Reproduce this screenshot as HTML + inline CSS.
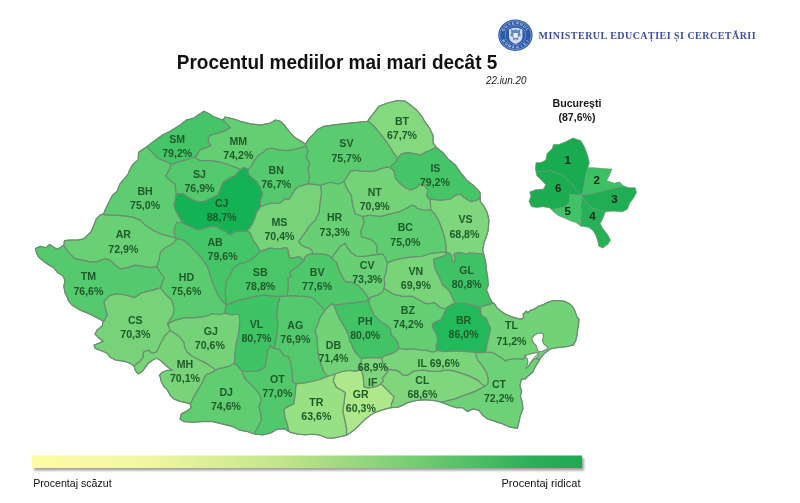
<!DOCTYPE html>
<html lang="ro"><head><meta charset="utf-8"><title>Procentul mediilor mai mari decât 5</title>
<style>
html,body{margin:0;padding:0;background:#fff;}
body{width:800px;height:503px;overflow:hidden;position:relative;font-family:"Liberation Sans",sans-serif;}
svg{position:absolute;left:0;top:0;}
.c{stroke:#6a8f70;stroke-width:1.2;stroke-linejoin:round;}
.l{font:bold 10.6px "Liberation Sans",sans-serif;fill:#1e5a2a;text-anchor:middle;}
.n{font:bold 11.5px "Liberation Sans",sans-serif;fill:#0c2b16;text-anchor:middle;}
.bl{font:bold 10.6px "Liberation Sans",sans-serif;fill:#1a1a1a;text-anchor:middle;}
.title{font:bold 19.6px "Liberation Sans",sans-serif;fill:#111;}
.date{font:italic 10.4px "Liberation Sans",sans-serif;fill:#222;}
.leg{font:10.6px "Liberation Sans",sans-serif;fill:#111;}
.min{font:bold 10px "Liberation Serif",serif;fill:#3d4fa3;letter-spacing:0.9px;}
</style></head><body>
<svg width="800" height="503" viewBox="0 0 800 503">
<defs>
<linearGradient id="lg" x1="0" x2="1" y1="0" y2="0">
<stop offset="0" stop-color="#fdfba6"/><stop offset="0.2" stop-color="#f3f7a2"/><stop offset="0.45" stop-color="#c3e58c"/><stop offset="0.7" stop-color="#74cc72"/><stop offset="0.9" stop-color="#2fb05a"/><stop offset="1" stop-color="#1fa852"/>
</linearGradient>
<filter id="sh" x="-5%" y="-50%" width="110%" height="250%"><feGaussianBlur stdDeviation="1.2"/></filter>
</defs>

<path d="M67.6,297.7 65.1,292.7 63.9,286.5 65.1,280.2 62.6,275.2 57.6,272.7 53.8,267.7 48.1,264.4 44.3,261.7 40.3,258.6 37.8,255.6 36.3,251.9 35.5,248.6 40.3,246.4 45.8,247.9 49.6,244.6 53.3,247.1 57.1,249.4 60.9,247.4 63.9,245.1 64.6,240.6 70.1,240.1 77.6,240.1 83.9,238.8 87.7,235.1 91.4,231.3 93.9,225.1 96.4,218.8 100.2,215.0 104.0,213.8 104.5,211.5 107.5,205.3 112.5,195.3 117.0,191.5 120.1,184.0 125.6,177.5 127.8,174.9 129.3,170.9 131.8,166.2 135.1,162.4 138.3,159.9 138.6,152.4 141.4,150.4 146.4,147.1 153.9,141.4 162.7,135.1 170.2,131.3 180.2,125.1 186.5,120.1 194.0,118.1 200.3,113.8 204.0,111.3 209.0,113.8 212.8,116.3 219.0,118.8 222.8,120.1 225.3,117.1 232.8,118.8 240.4,121.3 250.4,123.8 260.4,125.1 270.4,123.1 275.4,120.1 280.5,121.3 285.5,126.3 285.0,126.4 290.0,132.6 295.0,137.6 301.3,141.4 305.6,144.4 308.8,138.9 313.8,133.9 317.6,129.6 323.9,126.4 332.6,125.1 342.7,123.8 355.2,122.6 367.7,121.3 370.2,117.6 375.2,111.3 379.0,106.3 387.8,103.0 397.8,100.5 405.3,101.3 410.3,105.1 416.6,110.1 421.6,116.3 425.4,122.6 429.1,127.6 432.9,135.1 432.9,142.6 436.6,147.7 442.9,152.7 447.9,158.9 455.4,165.2 460.5,172.7 466.7,180.2 473.0,185.3 478.0,190.3 480.0,192.8 480.2,201.3 483.9,206.3 487.2,212.6 488.9,220.1 488.2,230.2 486.4,236.4 483.9,242.7 482.7,250.2 483.9,255.2 485.7,262.7 486.4,270.3 487.7,277.8 488.2,285.3 486.3,290.0 487.9,293.3 489.6,298.2 492.0,302.2 494.5,303.9 496.9,307.9 501.0,311.2 505.9,314.5 511.6,316.9 517.3,318.5 522.2,319.0 523.8,316.9 523.0,314.5 526.3,311.2 527.9,312.8 530.4,310.4 534.4,309.2 538.5,306.3 543.4,304.7 548.3,302.2 553.2,300.6 558.9,300.6 564.6,301.4 569.5,303.9 572.8,307.1 575.2,312.0 576.9,316.9 579.0,319.4 578.5,324.3 577.7,329.2 576.9,335.7 575.7,340.6 573.6,344.6 567.9,346.3 561.4,347.1 554.8,347.9 550.8,348.7 548.3,350.4 545.0,352.8 542.6,355.3 540.1,358.5 538.5,361.8 536.1,365.0 534.4,368.3 532.8,372.1 528.0,376.0 525.0,379.0 521.6,378.9 519.8,385.1 521.6,391.4 520.3,396.4 522.3,402.7 522.8,408.9 520.3,415.2 519.0,421.5 517.3,428.2 510.3,427.2 502.8,424.0 495.2,421.5 487.7,419.0 482.7,415.2 478.9,410.2 472.7,408.9 467.7,411.4 462.7,407.7 456.4,407.7 448.9,405.2 441.4,402.2 435.1,400.7 425.1,399.7 415.0,400.7 407.5,402.7 400.0,406.4 397.9,407.2 390.4,407.7 382.9,409.7 375.3,412.2 370.3,415.2 365.3,418.9 360.3,424.0 355.3,429.0 350.3,432.7 346.5,435.2 340.3,436.5 332.7,438.2 326.5,437.7 320.2,435.2 312.7,434.0 305.2,434.7 297.6,434.0 290.1,432.2 285.1,429.0 277.6,429.0 270.1,433.2 262.6,434.7 255.0,434.0 247.5,431.5 240.0,430.2 232.8,426.5 222.7,424.0 212.7,421.5 202.7,421.5 192.7,422.2 183.9,421.5 180.1,418.9 181.4,413.9 186.4,411.4 191.4,407.7 190.2,403.9 186.4,402.7 180.1,401.4 173.9,398.9 170.1,395.1 167.6,390.1 163.8,386.4 161.3,381.4 160.1,376.3 159.4,375.3 162.4,372.3 167.4,370.3 172.4,370.3 169.4,368.3 164.4,364.3 160.4,360.2 156.4,358.2 152.4,360.2 148.4,363.3 145.3,367.3 142.3,371.3 138.3,373.9 135.3,370.3 134.3,366.3 130.3,363.3 124.3,361.2 116.2,360.2 110.2,357.2 107.2,353.2 100.2,350.2 95.1,348.2 94.1,345.2 99.2,343.2 103.2,341.2 99.2,338.2 95.1,334.1 97.1,330.1 102.2,326.1 103.2,321.1 96.1,317.1 88.1,313.1 80.1,310.0 72.0,305.0 68.0,300.0 67.6,297.7Z" fill="#6fcc78" stroke="#6a8f70" stroke-width="1.3"/>
<path class="c" d="M226.4,305.1 225.2,292.6 226.4,281.3 230.2,275.0 232.7,270.0 233.9,267.7 238.9,263.9 245.2,262.7 250.2,260.2 255.2,256.4 260.2,251.4 257.7,246.4 254.0,241.4 251.5,236.4 250.3,233.0 247.5,230.6 244.1,231.2 239.3,231.2 233.8,231.9 231.0,234.7 228.2,234.0 225.5,231.2 221.4,229.9 217.9,227.8 213.8,225.8 210.4,226.4 206.2,227.8 202.2,229.2 198.0,229.9 194.6,228.5 189.8,226.4 184.3,223.7 180.1,222.3 176.7,222.7 174.9,226.5 174.1,231.3 174.6,235.4 176.7,238.8 182.9,240.1 187.9,243.8 192.9,248.8 197.9,253.9 202.9,260.1 207.9,267.6 209.8,274.2 212.8,283.9 216.5,292.1 221.0,299.5 224.0,303.0 226.4,305.1Z" fill="#44c567"/>
<path class="c" d="M287.1,295.9 280.0,296.3 277.8,305.1 276.6,315.1 277.8,325.1 276.6,335.1 275.3,342.7 274.1,348.9 278.9,348.9 283.8,355.5 288.7,357.1 291.2,365.3 292.0,373.4 292.8,382.1 296.3,384.0 305.1,382.8 312.6,381.5 321.4,379.0 327.6,376.5 323.9,371.5 321.4,365.2 318.9,357.7 317.6,347.6 317.1,337.6 315.1,330.1 317.6,325.1 320.1,317.6 325.1,310.1 322.6,307.6 317.6,302.6 312.6,297.6 305.1,296.3 292.6,295.6 287.1,295.9Z" fill="#53c86c"/>
<path class="c" d="M176.7,238.8 170.4,236.3 160.3,233.8 152.8,230.1 145.3,225.1 140.3,220.1 132.8,217.1 122.8,215.6 112.8,215.1 104.0,214.6 103.8,213.8 100.2,215.1 96.5,218.8 94.0,225.1 91.5,231.3 87.7,235.1 83.9,238.8 77.7,240.1 70.2,240.1 64.6,240.6 63.9,245.1 66.3,249.6 70.2,253.9 75.2,258.9 82.7,260.1 90.2,262.1 97.7,261.4 105.2,258.9 110.2,260.1 115.2,265.1 120.2,268.9 127.8,267.6 135.3,265.1 142.8,266.4 150.3,267.6 156.6,266.4 159.1,260.1 160.3,252.7 165.3,247.6 172.9,243.8 176.7,238.8Z" fill="#6ad076"/>
<path class="c" d="M430.6,209.5 424.4,210.0 417.5,208.5 414.8,205.8 411.6,205.1 407.8,207.6 400.3,211.3 390.3,213.8 380.2,216.3 370.2,215.1 362.2,216.3 363.9,221.4 363.2,225.2 360.6,231.6 361.4,237.2 366.2,238.1 371.1,239.7 374.4,242.2 376.9,246.2 376.9,252.8 377.6,254.7 382.6,254.1 385.0,257.6 387.4,262.9 395.5,259.8 408.5,257.3 421.6,256.5 431.4,253.3 441.1,252.4 446.6,252.2 445.9,243.9 444.1,235.2 441.6,227.7 438.5,220.0 435.4,214.5 430.6,209.5Z" fill="#5ecc70"/>
<path class="c" d="M171.4,164.4 167.7,162.2 161.4,159.7 156.4,157.2 151.4,151.4 147.1,146.9 146.9,146.7 146.3,147.2 141.3,150.4 138.6,152.4 138.3,159.9 135.1,162.4 131.8,166.2 129.3,170.9 127.8,174.9 125.5,177.4 120.0,183.9 117.0,191.5 112.5,195.2 107.5,205.3 104.5,211.6 104.0,213.8 103.8,213.8 104.0,214.6 112.8,215.1 122.8,215.6 132.8,217.1 140.3,220.1 145.3,225.1 152.8,230.1 160.3,233.8 170.4,236.3 176.7,238.8 174.6,235.4 174.1,231.3 174.9,226.5 176.7,222.7 180.1,222.3 184.3,223.7 181.5,220.9 179.7,217.8 176.4,211.6 173.9,205.3 175.2,200.2 176.4,194.0 175.7,190.2 175.2,183.9 170.2,180.2 165.7,176.4 169.7,168.9 171.4,164.4Z" fill="#5ecc70"/>
<path class="c" d="M300.1,147.9 296.0,148.9 287.9,150.6 279.7,149.8 271.6,148.1 266.7,148.9 263.4,152.2 257.7,155.5 254.4,160.4 251.2,166.1 248.3,169.4 247.8,173.9 251.7,177.7 256.6,181.4 260.4,187.8 262.4,194.0 260.4,200.2 260.4,206.6 270.4,203.3 276.0,203.5 280.1,203.1 283.2,200.2 285.8,198.9 288.2,199.5 290.1,197.7 292.6,193.9 295.1,189.5 298.9,186.3 303.9,185.1 308.6,183.6 309.6,177.8 308.1,170.2 309.6,162.7 306.3,157.7 308.1,151.4 305.6,144.4 305.1,146.4 300.1,147.9Z" fill="#54c96d"/>
<path class="c" d="M454.9,303.5 452.8,303.8 447.9,306.5 447.1,307.9 447.0,307.9 446.6,308.6 444.5,312.0 443.1,316.1 441.1,319.6 437.6,320.9 434.2,322.3 432.1,324.4 432.9,328.5 434.9,331.2 436.9,335.4 437.6,340.9 436.2,346.4 436.2,350.5 444.5,351.6 452.8,351.2 461.0,351.2 469.3,351.9 475.2,352.4 477.6,352.6 485.1,352.6 485.2,352.4 485.0,352.3 485.2,352.3 486.4,349.1 487.1,343.6 488.6,338.1 489.9,332.6 490.6,327.9 488.6,324.4 487.1,320.2 485.8,317.5 481.6,316.1 480.9,312.0 480.3,307.2 473.4,305.8 466.6,303.8 459.6,303.1 454.9,303.5Z" fill="#22b85c"/>
<path class="c" d="M367.9,121.1 368.2,121.3 374.0,126.3 380.2,133.8 385.2,140.2 390.3,147.7 394.1,153.9 397.3,158.2 401.6,153.9 407.8,152.7 415.4,153.9 420.4,155.2 425.4,152.2 430.4,150.2 434.1,148.2 436.6,147.7 432.9,142.7 432.9,135.2 429.1,127.6 425.4,122.6 421.6,116.3 416.6,110.0 410.4,105.0 405.3,101.3 397.8,100.5 387.8,103.0 379.0,106.3 375.2,111.3 370.2,117.6 367.9,121.1Z" fill="#84d87d"/>
<path class="c" d="M368.7,300.1 367.9,296.8 363.0,290.2 358.1,285.4 351.6,282.1 345.1,281.3 341.8,275.6 338.5,269.1 336.9,262.5 331.6,258.4 329.5,255.6 324.2,254.1 318.1,253.8 312.4,253.6 307.6,254.7 305.0,256.9 303.7,260.4 300.6,263.9 296.2,267.4 291.9,270.0 289.7,272.6 291.0,276.1 287.5,279.0 288.3,285.2 287.8,290.2 287.1,295.5 287.1,295.9 292.6,295.6 305.1,296.3 312.6,297.6 317.6,302.6 322.6,307.6 325.1,310.1 328.9,306.3 332.6,303.8 333.9,305.1 345.1,303.8 355.2,302.6 365.2,301.3 368.7,300.1Z" fill="#4fc76b"/>
<path class="c" d="M383.9,288.4 382.6,291.9 377.6,295.1 371.1,296.8 368.7,300.1 370.2,307.6 374.0,315.1 380.2,321.4 386.5,325.1 390.3,328.9 391.2,335.0 395.4,339.1 398.1,343.2 398.9,348.5 405.0,349.4 410.5,348.8 416.0,349.4 421.6,350.1 427.1,350.4 429.8,351.5 432.6,352.2 435.9,351.2 436.2,350.5 436.2,346.4 437.6,340.9 436.9,335.4 434.9,331.2 432.9,328.5 432.1,324.4 434.2,322.3 437.6,320.9 441.1,319.6 443.1,316.1 444.5,312.0 446.6,308.6 447.0,307.9 443.1,308.6 439.0,306.5 436.2,303.8 433.5,302.4 429.4,303.8 425.2,303.1 419.8,300.3 412.9,296.2 402.8,296.3 392.8,293.8 384.8,288.8 383.9,288.4Z" fill="#63ce72"/>
<path class="c" d="M240.3,169.4 235.3,175.2 227.8,178.9 222.8,182.7 220.3,189.0 218.0,194.5 215.9,196.0 211.8,197.5 207.6,199.8 203.5,201.5 198.0,201.5 192.5,199.4 187.0,196.2 182.9,193.6 176.4,194.0 175.2,200.2 173.9,205.3 176.4,211.6 179.7,217.8 181.5,220.9 184.3,223.7 189.8,226.4 194.6,228.5 198.0,229.9 202.2,229.2 206.2,227.8 210.4,226.4 213.8,225.8 217.9,227.8 221.4,229.9 225.5,231.2 228.2,234.0 231.0,234.7 233.8,231.9 239.3,231.2 244.1,231.2 247.5,230.6 250.3,227.1 253.0,223.0 255.1,217.5 256.5,212.0 258.5,210.0 260.4,206.6 260.4,200.2 262.4,194.0 260.4,187.8 256.6,181.4 251.7,177.7 247.8,173.9 248.3,169.4 244.1,167.2 240.3,169.4Z" fill="#14b254"/>
<path class="c" d="M441.4,402.1 445.1,401.4 455.1,398.9 465.1,395.1 475.2,391.4 484.7,386.4 477.7,380.1 470.2,376.4 460.1,372.6 450.1,370.1 445.0,370.2 439.4,371.1 435.3,371.4 429.8,371.1 424.3,370.1 418.8,370.5 413.2,371.1 410.5,373.5 407.8,375.1 402.2,374.9 400.2,372.1 395.4,370.1 389.2,369.4 387.1,372.1 384.4,375.6 382.3,378.4 383.0,381.1 380.9,383.9 385.8,388.6 389.9,392.8 394.0,396.9 392.6,401.0 391.2,404.2 391.5,407.6 397.9,407.1 400.0,406.4 407.5,402.6 415.1,400.6 425.1,399.6 435.1,400.6 441.4,402.1Z" fill="#80d67c"/>
<path class="c" d="M169.9,330.6 169.2,326.9 167.5,323.9 170.8,318.8 173.2,314.7 174.1,309.8 173.2,304.9 171.6,300.0 165.3,294.0 160.3,287.7 154.4,289.6 147.9,291.2 141.4,292.8 134.8,297.5 129.9,296.1 123.4,294.5 115.3,293.7 108.7,296.1 103.8,301.8 105.5,309.2 107.1,314.9 104.6,320.5 103.2,321.1 102.2,326.1 97.2,330.1 95.2,334.1 99.2,338.1 103.2,341.1 99.2,343.1 94.2,345.2 95.2,348.2 100.2,350.2 107.2,353.2 110.2,357.2 116.2,360.2 124.2,361.2 130.3,363.2 134.3,366.2 136.3,364.2 140.3,361.2 143.3,357.2 143.3,352.2 148.3,350.2 152.3,353.2 156.4,352.2 159.4,346.2 162.4,340.1 165.4,335.1 169.9,330.6Z" fill="#77d379"/>
<path class="c" d="M485.2,352.3 485.2,352.4 485.1,352.6 477.6,352.6 475.2,352.4 475.2,353.1 477.7,360.1 482.7,366.4 486.4,372.6 488.2,378.9 487.7,383.9 484.7,386.4 475.2,391.4 465.1,395.1 455.1,398.9 445.1,401.4 441.4,402.1 448.9,405.2 456.4,407.7 462.6,407.7 467.6,411.4 472.7,408.9 478.9,410.2 482.7,415.2 487.7,418.9 495.2,421.4 502.8,423.9 510.3,427.2 517.3,428.2 519.0,421.4 520.3,415.2 522.8,408.9 522.3,402.6 520.3,396.4 521.5,391.4 519.8,385.1 521.5,378.9 525.0,379.0 528.0,376.0 532.8,372.1 534.5,368.3 536.0,365.1 538.5,361.8 539.7,359.4 537.0,358.8 532.0,357.5 525.5,356.9 522.2,359.4 515.7,358.5 509.1,359.4 505.1,360.9 502.6,358.5 496.1,354.4 491.2,352.0 485.2,352.3Z" fill="#6dd177"/>
<path class="c" d="M377.6,254.7 374.4,254.7 364.6,256.3 356.4,256.0 351.6,252.8 347.5,247.8 345.1,243.2 340.1,246.2 335.2,252.8 331.6,258.4 336.9,262.5 338.5,269.1 341.8,275.6 345.1,281.3 351.6,282.1 358.1,285.4 363.0,290.2 367.9,296.8 368.7,300.1 371.1,296.8 377.6,295.1 382.6,291.9 383.9,288.4 385.0,285.4 384.2,278.9 386.1,272.3 387.4,262.9 385.0,257.6 382.6,254.1 377.6,254.7Z" fill="#68cf75"/>
<path class="c" d="M361.7,358.6 358.2,355.6 354.8,351.5 352.8,347.4 351.4,343.2 350.0,341.9 348.9,336.4 346.4,330.1 342.6,323.9 338.9,317.6 336.4,311.4 333.9,305.1 332.6,303.8 328.9,306.3 325.1,310.1 320.1,317.6 317.6,325.1 315.1,330.1 317.1,337.6 317.6,347.6 318.9,357.7 321.4,365.2 323.9,371.5 327.6,376.5 334.4,374.2 335.1,374.0 342.6,371.5 350.0,370.5 355.5,371.4 360.8,369.4 360.3,366.6 361.0,362.5 361.7,358.6Z" fill="#71d278"/>
<path class="c" d="M241.4,370.2 238.2,366.5 234.4,363.2 234.4,363.1 234.4,363.1 229.5,366.1 223.0,367.7 218.1,368.5 215.7,370.1 211.6,372.6 206.7,374.2 204.2,377.5 202.6,382.1 201.4,383.9 197.7,390.1 193.9,396.4 191.4,401.4 190.2,403.9 191.4,407.6 186.4,411.4 181.4,413.9 180.2,418.9 183.9,421.4 192.7,422.2 202.7,421.4 212.7,421.4 222.8,423.9 232.8,426.4 240.0,430.2 247.5,431.5 255.1,434.0 255.3,434.0 255.3,431.5 259.1,425.2 261.6,418.9 260.4,412.7 259.1,406.4 261.6,400.1 259.1,393.9 255.3,388.9 250.3,383.9 245.3,378.9 241.4,370.2Z" fill="#60cd71"/>
<path class="c" d="M234.4,363.1 235.2,352.7 236.4,342.7 238.9,332.6 239.7,323.9 239.6,318.0 239.2,314.5 236.0,314.0 232.0,315.0 228.0,314.0 225.0,313.0 220.0,314.5 215.0,314.0 212.0,313.5 209.0,315.0 205.1,316.4 195.1,317.6 185.1,317.6 175.1,320.1 167.5,323.9 169.2,326.9 169.9,330.6 173.2,332.6 177.3,335.1 180.6,338.4 183.8,342.4 184.7,347.3 187.1,352.2 192.0,356.3 196.9,358.8 201.8,361.1 206.7,363.6 211.6,366.9 215.7,370.1 218.1,368.5 223.0,367.7 229.5,366.1 234.4,363.1 234.4,363.1Z" fill="#75d278"/>
<path class="c" d="M483.4,253.1 482.5,254.0 479.0,253.5 473.0,253.0 469.0,252.8 467.0,254.0 465.0,253.8 462.0,252.8 458.0,252.5 455.0,253.3 453.8,254.5 454.7,257.5 455.0,261.2 453.8,262.5 452.5,260.0 451.5,256.5 450.5,253.5 446.6,252.2 445.0,255.5 440.0,257.0 433.5,259.0 434.0,264.0 435.0,268.0 437.0,273.0 439.0,277.0 441.0,281.0 442.5,285.0 445.5,287.5 448.6,290.0 451.4,295.5 453.4,300.3 454.9,303.5 459.6,303.1 466.6,303.8 473.4,305.8 480.3,307.2 484.4,305.8 489.9,304.4 493.4,303.2 492.0,302.2 489.6,298.1 487.9,293.2 486.3,290.0 488.1,285.3 487.6,277.8 486.4,270.2 485.6,262.8 483.9,255.2 483.4,253.1Z" fill="#3ec265"/>
<path class="c" d="M363.8,386.6 363.8,381.8 363.1,376.2 361.7,370.8 360.8,369.4 355.5,371.4 350.0,370.5 342.6,371.5 335.1,374.0 334.4,374.2 334.8,375.1 333.2,381.4 336.5,387.6 345.2,392.6 344.0,402.6 342.8,411.4 344.8,420.2 346.5,428.9 346.5,435.2 350.3,432.8 355.3,428.9 360.3,423.9 365.3,418.9 370.4,415.2 375.4,412.2 382.9,409.6 390.4,407.6 391.5,407.6 391.2,404.2 392.6,401.0 394.0,396.9 389.9,392.8 385.8,388.6 380.9,383.9 377.5,385.9 373.4,387.2 367.9,387.9 363.8,386.6Z" fill="#aee88a"/>
<path class="c" d="M225.0,313.0 225.3,309.0 226.4,305.1 224.0,303.0 221.0,299.5 216.5,292.1 212.8,283.9 209.8,274.2 207.9,267.6 202.9,260.1 197.9,253.9 192.9,248.8 187.9,243.8 182.9,240.1 176.7,238.8 172.9,243.8 165.3,247.6 160.3,252.7 159.1,260.1 156.6,266.4 160.3,272.7 164.1,277.7 161.6,283.9 160.3,287.7 165.3,294.0 171.6,300.0 173.2,304.9 174.1,309.8 173.2,314.7 170.8,318.8 167.5,323.9 175.1,320.1 185.1,317.6 195.1,317.6 205.1,316.4 209.0,315.0 212.0,313.5 215.0,314.0 220.0,314.5 225.0,313.0Z" fill="#5acb6f"/>
<path class="c" d="M343.9,181.5 338.9,184.0 330.1,182.2 320.6,185.1 321.4,192.6 320.1,202.6 318.9,212.6 315.1,220.2 308.8,226.4 305.1,232.7 302.6,235.7 301.5,238.1 298.9,240.2 298.9,242.4 301.5,245.1 305.0,247.2 310.2,248.6 312.0,250.8 312.4,253.6 318.1,253.8 324.2,254.1 329.5,255.6 331.6,258.4 335.2,252.8 340.1,246.2 345.1,243.2 347.5,247.8 351.6,252.8 356.4,256.0 364.6,256.3 374.4,254.7 377.6,254.7 376.9,252.8 376.9,246.2 374.4,242.2 371.1,239.7 366.2,238.1 361.4,237.2 360.6,231.6 363.2,225.2 363.9,221.4 362.2,216.3 355.2,213.8 352.7,205.1 351.4,195.1 347.1,188.8 343.9,181.5Z" fill="#68cf75"/>
<path class="c" d="M381.9,357.7 374.8,357.3 367.9,357.7 361.7,358.6 361.0,362.5 360.3,366.6 360.8,369.4 361.7,370.8 363.1,376.2 363.8,381.8 363.8,386.6 367.9,387.9 373.4,387.2 377.5,385.9 380.9,383.9 383.0,381.1 382.3,378.4 384.4,375.6 387.1,372.1 389.2,369.4 386.4,367.3 383.7,364.6 382.3,361.1 381.9,357.7Z" fill="#7ed57b"/>
<path class="c" d="M475.2,352.4 469.3,351.9 461.0,351.2 452.8,351.2 444.5,351.6 436.2,350.5 435.9,351.2 432.6,352.2 429.8,351.5 427.1,350.4 421.6,350.1 416.0,349.4 410.5,348.8 405.0,349.4 398.9,348.5 396.1,351.2 391.2,353.6 384.4,355.6 381.9,357.7 382.3,361.1 383.7,364.6 386.4,367.3 389.2,369.4 395.4,370.1 400.2,372.1 402.2,374.9 407.8,375.1 410.5,373.5 413.2,371.1 418.8,370.5 424.3,370.1 429.8,371.1 435.3,371.4 439.4,371.1 445.0,370.2 450.1,370.1 460.1,372.6 470.2,376.4 477.7,380.1 484.7,386.4 487.7,383.9 488.2,378.9 486.4,372.6 482.7,366.4 477.7,360.1 475.2,353.1 475.2,352.4Z" fill="#7ad47a"/>
<path class="c" d="M436.6,147.7 434.1,148.2 430.4,150.2 425.4,152.2 420.4,155.2 415.4,153.9 407.8,152.7 401.6,153.9 397.3,158.2 395.3,162.7 391.6,165.2 390.3,167.7 394.1,171.4 395.3,177.8 399.1,182.8 405.3,187.8 410.4,190.2 416.6,187.8 420.4,184.0 424.1,185.2 427.9,190.2 426.6,195.3 430.4,199.1 440.4,200.3 450.4,199.1 455.4,195.3 460.4,194.0 464.2,197.8 470.5,201.6 476.8,200.3 480.0,197.8 480.1,197.8 480.0,192.8 478.0,190.2 473.0,185.2 466.7,180.2 460.4,172.7 455.4,165.2 447.9,158.9 442.9,152.7 436.6,147.7Z" fill="#46c568"/>
<path class="c" d="M215.7,370.1 211.6,366.9 206.7,363.6 201.8,361.1 196.9,358.8 192.0,356.3 187.1,352.2 184.7,347.3 183.8,342.4 180.6,338.4 177.3,335.1 173.2,332.6 169.9,330.6 165.4,335.1 162.4,340.1 159.4,346.2 156.4,352.2 152.3,353.2 148.3,350.2 143.3,352.2 143.3,357.2 140.3,361.2 136.3,364.2 134.3,366.2 135.3,370.3 138.3,373.9 142.3,371.3 145.3,367.2 148.3,363.2 152.3,360.2 156.4,358.2 160.4,360.2 164.4,364.2 169.4,368.2 172.4,370.3 167.4,370.3 162.4,372.3 159.4,375.3 160.1,376.4 161.3,381.4 163.8,386.4 167.6,390.1 170.1,395.1 173.8,398.9 180.2,401.4 186.4,402.6 190.2,403.9 191.4,401.4 193.9,396.4 197.7,390.1 201.4,383.9 202.6,382.1 204.2,377.5 206.7,374.2 211.6,372.6 215.7,370.1Z" fill="#78d379"/>
<path class="c" d="M222.8,120.0 226.6,123.8 230.3,127.6 225.3,130.6 217.8,133.1 210.3,135.1 208.2,138.8 208.2,142.6 210.8,145.2 206.5,147.7 200.2,149.4 197.8,153.9 195.2,157.7 200.2,160.7 210.3,160.7 220.3,162.2 230.3,165.2 240.3,169.4 244.1,167.2 248.3,169.4 251.2,166.1 254.4,160.4 257.7,155.5 263.4,152.2 266.7,148.9 271.6,148.1 279.7,149.8 287.9,150.6 296.0,148.9 300.1,147.9 305.1,146.4 305.6,144.4 301.3,141.4 295.1,137.7 290.1,132.6 285.0,126.3 285.4,126.3 280.4,121.3 275.4,120.0 270.4,123.0 260.4,125.1 250.4,123.8 240.3,121.3 232.8,118.8 225.3,117.0 222.8,120.0Z" fill="#63ce72"/>
<path class="c" d="M308.6,183.6 303.9,185.1 298.9,186.3 295.1,189.5 292.6,193.9 290.1,197.7 288.2,199.5 285.8,198.9 283.2,200.2 280.1,203.1 276.0,203.5 270.4,203.3 260.4,206.6 258.5,210.0 256.5,212.0 255.1,217.5 253.0,223.0 250.3,227.1 247.5,230.6 250.3,233.0 251.5,236.4 254.0,241.4 257.7,246.4 260.2,251.4 270.0,248.1 278.8,249.0 286.6,247.7 287.9,249.8 288.8,255.1 289.7,258.2 296.2,257.3 299.8,256.9 303.7,260.4 305.0,256.9 307.6,254.7 312.4,253.6 312.0,250.8 310.2,248.6 305.0,247.2 301.5,245.1 298.9,242.4 298.9,240.2 301.5,238.1 302.6,235.7 305.1,232.7 308.8,226.4 315.1,220.2 318.9,212.6 320.1,202.6 321.4,192.6 320.6,185.1 320.1,185.2 308.6,183.6Z" fill="#76d379"/>
<path class="c" d="M390.3,167.7 386.5,167.2 380.2,168.9 372.8,171.4 362.7,171.4 355.2,170.2 350.2,171.4 347.1,176.5 343.9,181.5 347.1,188.8 351.4,195.1 352.7,205.1 355.2,213.8 362.2,216.3 370.2,215.1 380.2,216.3 390.3,213.8 400.3,211.3 407.8,207.6 411.6,205.1 414.8,205.8 417.5,208.5 424.4,210.0 430.6,209.5 430.6,204.4 429.9,199.6 426.6,195.3 427.9,190.2 424.1,185.2 420.4,184.0 416.6,187.8 410.4,190.2 405.3,187.8 399.1,182.8 395.3,177.8 394.1,171.4 390.3,167.7Z" fill="#74d278"/>
<path class="c" d="M288.8,431.4 287.6,425.2 285.1,417.7 283.9,408.9 293.9,403.9 295.1,395.1 296.3,384.0 292.8,382.1 292.0,373.4 291.2,365.3 288.7,357.1 283.8,355.5 278.9,348.9 274.1,348.9 270.3,345.2 267.8,350.2 266.5,357.7 265.2,366.5 260.2,370.2 252.8,371.5 245.2,371.5 241.4,370.2 245.3,378.9 250.3,383.9 255.3,388.9 259.1,393.9 261.6,400.1 259.1,406.4 260.4,412.7 261.6,418.9 259.1,425.2 255.3,431.5 255.3,434.0 262.6,434.8 270.1,433.2 277.6,428.9 285.1,428.9 288.8,431.4Z" fill="#52c86c"/>
<path class="c" d="M398.9,348.5 398.1,343.2 395.4,339.1 391.2,335.0 390.3,328.9 386.5,325.1 380.2,321.4 374.0,315.1 370.2,307.6 368.7,300.1 365.2,301.3 355.2,302.6 345.1,303.8 333.9,305.1 336.4,311.4 338.9,317.6 342.6,323.9 346.4,330.1 348.9,336.4 350.0,341.9 351.4,343.2 352.8,347.4 354.8,351.5 358.2,355.6 361.7,358.6 367.9,357.7 374.8,357.3 381.9,357.7 384.4,355.6 391.2,353.6 396.1,351.2 398.9,348.5Z" fill="#42c466"/>
<path class="c" d="M303.7,260.4 299.8,256.9 296.2,257.3 289.7,258.2 288.8,255.1 287.9,249.8 286.6,247.7 278.8,249.0 270.0,248.1 260.2,251.4 255.2,256.4 250.2,260.2 245.2,262.7 238.9,263.9 233.9,267.7 232.7,270.0 230.2,275.0 226.4,281.3 225.2,292.6 226.4,305.1 235.2,301.4 245.2,298.8 255.2,296.3 265.2,295.1 272.8,296.3 280.0,296.3 287.1,295.9 287.1,295.5 287.8,290.2 288.3,285.2 287.5,279.0 291.0,276.1 289.7,272.6 291.9,270.0 296.2,267.4 300.6,263.9 303.7,260.4Z" fill="#48c668"/>
<path class="c" d="M200.2,149.4 199.0,151.4 196.5,155.2 192.8,157.7 186.4,159.7 177.7,162.2 171.4,164.4 169.7,168.9 165.7,176.4 170.2,180.2 175.2,183.9 175.7,190.2 176.4,194.0 182.9,193.6 187.0,196.2 192.5,199.4 198.0,201.5 203.5,201.5 207.6,199.8 211.8,197.5 215.9,196.0 218.0,194.5 220.3,189.0 222.8,182.7 227.8,178.9 235.3,175.2 240.3,169.4 230.3,165.2 220.3,162.2 210.3,160.7 200.2,160.7 195.2,157.7 197.8,153.9 200.2,149.4Z" fill="#53c86c"/>
<path class="c" d="M146.9,146.7 147.1,146.9 151.4,151.4 156.4,157.2 161.4,159.7 167.7,162.2 171.4,164.4 177.7,162.2 186.4,159.7 192.8,157.7 196.5,155.2 199.0,151.4 200.2,149.4 206.5,147.7 210.8,145.2 208.2,142.6 208.2,138.8 210.3,135.1 217.8,133.1 225.3,130.6 230.3,127.6 226.6,123.8 222.8,120.0 219.1,118.8 212.8,116.3 209.0,113.8 204.0,111.3 200.2,113.8 194.0,118.0 186.4,120.0 180.2,125.1 170.2,131.3 162.7,135.1 153.9,141.3 146.9,146.7Z" fill="#46c568"/>
<path class="c" d="M305.6,144.4 308.1,151.4 306.3,157.7 309.6,162.7 308.1,170.2 309.6,177.8 308.6,183.6 320.1,185.2 320.6,185.1 330.1,182.2 338.9,184.0 343.9,181.5 347.1,176.5 350.2,171.4 355.2,170.2 362.7,171.4 372.8,171.4 380.2,168.9 386.5,167.2 390.3,167.7 391.6,165.2 395.3,162.7 397.3,158.2 394.1,153.9 390.3,147.7 385.2,140.2 380.2,133.8 374.0,126.3 368.2,121.3 367.9,121.1 367.7,121.3 355.2,122.6 342.6,123.8 332.6,125.1 323.9,126.3 317.6,129.6 313.9,133.8 308.8,138.9 305.6,144.4Z" fill="#5acb6f"/>
<path class="c" d="M480.3,307.2 480.9,312.0 481.6,316.1 485.8,317.5 487.1,320.2 488.6,324.4 490.6,327.9 489.9,332.6 488.6,338.1 487.1,343.6 486.4,349.1 485.2,352.3 491.2,352.0 496.1,354.4 502.6,358.5 505.1,360.9 509.1,359.4 515.7,358.5 522.2,359.4 525.5,356.9 532.0,357.5 537.0,358.8 539.7,359.4 539.9,359.0 540.1,358.5 542.6,355.2 545.0,352.8 548.3,350.4 550.8,348.8 554.9,347.9 561.4,347.1 567.9,346.3 573.6,344.6 575.7,340.6 576.9,335.7 577.6,329.1 578.5,324.2 579.0,319.4 576.9,316.9 575.2,312.0 572.8,307.1 569.5,303.9 564.6,301.4 558.9,300.6 553.2,300.6 548.3,302.2 543.4,304.7 538.5,306.3 534.5,309.2 530.4,310.4 527.9,312.9 526.3,311.2 523.0,314.4 523.9,316.9 522.2,319.1 517.3,318.6 511.6,316.9 505.9,314.4 501.0,311.2 496.9,307.9 494.4,303.9 493.6,303.3 493.4,303.2 489.9,304.4 484.4,305.8 480.3,307.2Z" fill="#72d278"/>
<path class="c" d="M156.6,266.4 150.3,267.6 142.8,266.4 135.3,265.1 127.8,267.6 120.2,268.9 115.2,265.1 110.2,260.1 105.2,258.9 97.7,261.4 90.2,262.1 82.7,260.1 75.2,258.9 70.2,253.9 66.3,249.6 63.9,245.1 60.9,247.3 57.1,249.3 53.4,247.1 49.5,244.6 45.8,247.8 40.3,246.3 35.5,248.6 36.3,251.9 37.8,255.7 40.3,258.6 44.3,261.6 48.0,264.4 53.9,267.6 57.6,272.7 62.6,275.2 65.1,280.2 63.9,286.4 65.1,292.8 67.6,297.8 68.0,300.0 72.0,305.0 80.1,310.1 88.1,313.1 96.2,317.1 103.2,321.1 104.6,320.5 107.1,314.9 105.5,309.2 103.8,301.8 108.7,296.1 115.3,293.7 123.4,294.5 129.9,296.1 134.8,297.5 141.4,292.8 147.9,291.2 154.4,289.6 160.3,287.7 161.6,283.9 164.1,277.7 160.3,272.7 156.6,266.4Z" fill="#54c96d"/>
<path class="c" d="M334.4,374.2 327.6,376.5 321.4,379.0 312.6,381.5 305.1,382.8 296.3,384.0 295.1,395.1 293.9,403.9 283.9,408.9 285.1,417.7 287.6,425.2 288.8,431.4 289.1,431.6 290.1,432.2 297.6,434.0 305.1,434.8 312.7,434.0 320.2,435.2 326.4,437.8 332.8,438.2 340.2,436.5 346.5,435.2 346.5,428.9 344.8,420.2 342.8,411.4 344.0,402.6 345.2,392.6 336.5,387.6 333.2,381.4 334.8,375.1 334.4,374.2Z" fill="#98e084"/>
<path class="c" d="M280.0,296.3 272.8,296.3 265.2,295.1 255.2,296.3 245.2,298.8 235.2,301.4 226.4,305.1 225.3,309.0 225.0,313.0 228.0,314.0 232.0,315.0 236.0,314.0 239.2,314.5 239.6,318.0 239.7,323.9 238.9,332.6 236.4,342.7 235.2,352.7 234.4,363.1 234.4,363.2 238.2,366.5 241.4,370.2 245.2,371.5 252.8,371.5 260.2,370.2 265.2,366.5 266.5,357.7 267.8,350.2 270.3,345.2 274.1,348.9 275.3,342.7 276.6,335.1 277.8,325.1 276.6,315.1 277.8,305.1 280.0,296.3Z" fill="#3ec365"/>
<path class="c" d="M446.6,252.2 441.1,252.4 431.4,253.3 421.6,256.5 408.5,257.3 395.5,259.8 387.4,262.9 386.1,272.3 384.2,278.9 385.0,285.4 383.9,288.4 384.8,288.8 392.8,293.8 402.8,296.3 412.9,296.2 419.8,300.3 425.2,303.1 429.4,303.8 433.5,302.4 436.2,303.8 439.0,306.5 443.1,308.6 447.0,307.9 447.1,307.9 447.9,306.5 452.8,303.8 454.9,303.5 453.4,300.3 451.4,295.5 448.6,290.0 445.5,287.5 442.5,285.0 441.0,281.0 439.0,277.0 437.0,273.0 435.0,268.0 434.0,264.0 433.5,259.0 440.0,257.0 445.0,255.5 446.6,252.2Z" fill="#79d379"/>
<path class="c" d="M480.1,197.8 480.0,197.8 476.8,200.3 470.5,201.6 464.2,197.8 460.4,194.0 455.4,195.3 450.4,199.1 440.4,200.3 430.4,199.1 426.6,195.3 429.9,199.6 430.6,204.4 430.6,209.5 435.4,214.5 438.5,220.0 441.6,227.7 444.1,235.2 445.9,243.9 446.6,252.2 450.5,253.5 451.5,256.5 452.5,260.0 453.8,262.5 455.0,261.2 454.7,257.5 453.8,254.5 455.0,253.3 458.0,252.5 462.0,252.8 465.0,253.8 467.0,254.0 469.0,252.8 473.0,253.0 479.0,253.5 482.5,254.0 483.4,253.1 483.3,252.7 482.6,250.2 483.9,242.7 486.4,236.4 488.1,230.2 488.9,220.2 487.1,212.6 483.9,206.3 480.1,201.3 480.1,197.8Z" fill="#7fd67c"/>
<path d="M531.9,338.1 534.1,335.5 537.6,333.3 541.1,332.9 543.7,334.2 543.3,337.2 542.4,340.7 543.7,343.8 546.4,346.0 548.1,347.3 547.2,349.1 544.6,350.4 542.0,351.2 539.4,351.7 537.6,350.4 536.7,347.7 535.9,345.1 534.1,343.4 532.4,341.2Z" fill="#fff" stroke="#6a8f70" stroke-width="1.1"/>
<path d="M524.5,355.6 528.0,354.7 532.4,353.4 536.7,352.6 538.9,353.0 538.5,355.6 536.7,357.8 534.1,359.6 531.5,361.7 529.7,364.4 528.0,367.0 526.2,368.3 527.1,365.2 528.0,361.7 527.1,358.7 525.8,356.9Z" fill="#fff" stroke="#6a8f70" stroke-width="1.1"/>
<path d="M538.5,353.9 L535,356.9 530.6,362.6 528,367" fill="none" stroke="#6a8f70" stroke-width="1.1"/>
<path d="M587.8,167.8 589.3,162.7 587.8,156.2 584.6,147.2 580.8,140.7 573.0,138.1 565.2,142.0 558.8,144.6 553.6,144.6 552.3,148.4 547.1,153.6 545.9,160.1 540.7,162.7 536.0,162.7 535.5,169.2 535.8,170.6 539.4,171.7 551.0,170.4 561.4,174.3 569.1,180.8 575.6,188.6 582.0,195.0 583.4,189.8 584.6,182.1 586.0,174.3 587.8,167.8Z" fill="#1aaa50" stroke="#6f8f78" stroke-width="0.8" stroke-opacity="0.55"/>
<path d="M623.5,185.9 619.5,182.1 614.4,183.3 606.6,180.8 609.2,175.6 611.8,169.2 602.8,168.6 593.7,167.8 587.8,167.8 586.0,174.3 584.6,182.1 583.4,189.8 582.0,195.0 592.4,193.7 602.8,191.1 613.1,188.6 623.5,185.9Z" fill="#3cc064" stroke="#6f8f78" stroke-width="0.8" stroke-opacity="0.55"/>
<path d="M605.4,211.8 613.1,211.1 622.1,211.8 627.3,209.2 629.9,202.8 633.8,197.6 636.4,192.4 635.1,187.8 628.6,187.8 623.5,185.9 613.1,188.6 602.8,191.1 592.4,193.7 582.0,195.0 586.0,202.8 592.4,207.9 600.1,210.5 605.4,211.8Z" fill="#20ae54" stroke="#6f8f78" stroke-width="0.8" stroke-opacity="0.55"/>
<path d="M580.8,226.1 588.5,227.3 592.4,229.9 595.0,233.8 597.6,240.2 598.9,246.2 602.8,248.0 607.9,244.2 610.5,240.2 607.9,235.1 602.8,228.6 600.1,223.4 602.8,218.2 605.4,211.8 600.1,210.5 592.4,207.9 586.0,202.8 582.0,195.0 580.8,205.3 581.5,213.1 580.8,220.8 580.8,226.1Z" fill="#28b058" stroke="#6f8f78" stroke-width="0.8" stroke-opacity="0.55"/>
<path d="M549.8,207.9 553.6,211.8 558.8,215.7 565.2,218.2 570.5,220.8 575.6,222.2 580.8,226.1 580.8,220.8 581.5,213.1 580.8,205.3 582.0,195.0 569.1,194.5 569.1,202.8 565.2,206.7 558.8,207.9 552.3,209.2 549.8,207.9Z" fill="#42c266" stroke="#6f8f78" stroke-width="0.8" stroke-opacity="0.55"/>
<path d="M535.8,170.6 536.8,175.6 542.0,180.8 545.9,184.7 543.2,189.3 535.5,189.8 529.9,191.9 530.9,196.3 529.0,201.4 531.6,206.7 536.8,207.4 543.2,206.7 549.8,207.9 552.3,209.2 558.8,207.9 565.2,206.7 569.1,202.8 569.1,194.5 582.0,195.0 575.6,188.6 569.1,180.8 561.4,174.3 551.0,170.4 539.4,171.7 535.8,170.6Z" fill="#1dac52" stroke="#6f8f78" stroke-width="0.8" stroke-opacity="0.55"/>
<path d="M573.0,138.1 580.8,140.7 584.6,147.2 587.8,156.2 589.3,162.7 587.8,167.8 593.7,167.8 602.8,168.6 611.8,169.1 609.2,175.6 606.6,180.8 614.4,183.4 619.6,182.1 623.4,185.9 628.6,187.8 635.1,187.8 636.4,192.4 633.8,197.6 629.9,202.8 627.3,209.2 622.1,211.8 613.1,211.0 605.3,211.8 602.8,218.3 600.2,223.4 602.8,228.6 607.9,235.1 610.5,240.2 607.9,244.1 602.8,248.0 598.9,246.2 597.6,240.2 595.0,233.8 592.4,229.9 588.5,227.3 580.8,226.0 575.6,222.1 570.4,220.9 565.3,218.3 558.8,215.7 553.6,211.8 549.7,207.9 543.3,206.6 536.8,207.4 531.6,206.6 529.1,201.5 530.9,196.3 529.8,191.9 535.5,189.8 543.3,189.3 545.9,184.6 542.0,180.8 536.8,175.6 535.5,169.1 536.0,162.7 540.7,162.7 545.9,160.1 547.2,153.6 552.3,148.4 553.6,144.6 558.8,144.6 565.3,142.0 573.0,138.1Z" fill="none" stroke="#5a9a6a" stroke-width="0.8" stroke-opacity="0.5"/>
<text class="n" x="567.8" y="163.9">1</text>
<text class="n" x="596.8" y="183.9">2</text>
<text class="n" x="614.4" y="202.8">3</text>
<text class="n" x="592.4" y="220.1">4</text>
<text class="n" x="567.8" y="214.9">5</text>
<text class="n" x="558.3" y="192.4">6</text>
<text class="bl" x="577" y="107.3">București</text><text class="bl" x="577" y="121">(87,6%)</text>
<text class="l" x="177.2" y="142.7">SM</text><text class="l" x="177.2" y="156.9">79,2%</text>
<text class="l" x="238.3" y="144.7">MM</text><text class="l" x="238.3" y="159.0">74,2%</text>
<text class="l" x="199.5" y="178.2">SJ</text><text class="l" x="199.5" y="192.3">76,9%</text>
<text class="l" x="276.2" y="173.5">BN</text><text class="l" x="276.2" y="187.8">76,7%</text>
<text class="l" x="145.1" y="195.3">BH</text><text class="l" x="145.1" y="209.1">75,0%</text>
<text class="l" x="221.7" y="207.0">CJ</text><text class="l" x="221.7" y="221.0">88,7%</text>
<text class="l" x="346.4" y="146.9">SV</text><text class="l" x="346.4" y="161.5">75,7%</text>
<text class="l" x="402.0" y="124.6">BT</text><text class="l" x="402.0" y="138.9">67,7%</text>
<text class="l" x="435.4" y="171.5">IS</text><text class="l" x="434.9" y="185.8">79,2%</text>
<text class="l" x="374.7" y="196.1">NT</text><text class="l" x="374.7" y="210.4">70,9%</text>
<text class="l" x="334.6" y="221.4">HR</text><text class="l" x="334.6" y="235.7">73,3%</text>
<text class="l" x="405.3" y="231.4">BC</text><text class="l" x="405.3" y="246.0">75,0%</text>
<text class="l" x="465.5" y="222.9">VS</text><text class="l" x="464.4" y="237.9">68,8%</text>
<text class="l" x="317.1" y="276.1">BV</text><text class="l" x="317.1" y="290.3">77,6%</text>
<text class="l" x="367.2" y="268.5">CV</text><text class="l" x="367.2" y="282.8">73,3%</text>
<text class="l" x="415.8" y="275.3">VN</text><text class="l" x="415.8" y="289.1">69,9%</text>
<text class="l" x="466.7" y="273.5">GL</text><text class="l" x="466.7" y="287.8">80,8%</text>
<text class="l" x="279.5" y="226.4">MS</text><text class="l" x="279.5" y="240.2">70,4%</text>
<text class="l" x="215.1" y="245.9">AB</text><text class="l" x="222.6" y="260.2">79,6%</text>
<text class="l" x="260.2" y="276.0">SB</text><text class="l" x="260.2" y="290.3">78,8%</text>
<text class="l" x="186.5" y="280.6">HD</text><text class="l" x="186.3" y="294.9">75,6%</text>
<text class="l" x="123.3" y="237.6">AR</text><text class="l" x="123.3" y="252.7">72,9%</text>
<text class="l" x="88.4" y="279.7">TM</text><text class="l" x="88.4" y="294.5">76,6%</text>
<text class="l" x="135.3" y="323.8">CS</text><text class="l" x="135.3" y="338.3">70,3%</text>
<text class="l" x="210.8" y="334.8">GJ</text><text class="l" x="209.8" y="349.0">70,6%</text>
<text class="l" x="185.0" y="368.0">MH</text><text class="l" x="185.0" y="381.9">70,1%</text>
<text class="l" x="256.5" y="327.7">VL</text><text class="l" x="256.5" y="342.0">80,7%</text>
<text class="l" x="295.3" y="328.9">AG</text><text class="l" x="295.3" y="342.7">76,9%</text>
<text class="l" x="333.4" y="348.5">DB</text><text class="l" x="333.4" y="362.0">71,4%</text>
<text class="l" x="277.3" y="383.0">OT</text><text class="l" x="277.3" y="396.9">77,0%</text>
<text class="l" x="226.2" y="396.1">DJ</text><text class="l" x="226.0" y="410.2">74,6%</text>
<text class="l" x="316.3" y="406.1">TR</text><text class="l" x="316.3" y="420.2">63,6%</text>
<text class="l" x="360.8" y="397.7">GR</text><text class="l" x="360.8" y="412.2">60,3%</text>
<text class="l" x="372.8" y="386.4">IF</text><text class="l" x="372.8" y="371.4">68,9%</text>
<text class="l" x="422.4" y="384.3">CL</text><text class="l" x="422.4" y="398.1">68,6%</text>
<text class="l" x="365.2" y="325.2">PH</text><text class="l" x="365.2" y="339.4">80,0%</text>
<text class="l" x="407.8" y="313.9">BZ</text><text class="l" x="408.3" y="328.4">74,2%</text>
<text class="l" x="463.6" y="323.9">BR</text><text class="l" x="463.6" y="337.7">86,0%</text>
<text class="l" x="511.5" y="329.4">TL</text><text class="l" x="511.5" y="344.5">71,2%</text>
<text class="l" x="499.0" y="387.8">CT</text><text class="l" x="499.0" y="401.5">72,2%</text>
<text class="l" x="438.6" y="366.5">IL 69,6%</text>
<text class="title" x="176.8" y="68.8" textLength="320.5" lengthAdjust="spacingAndGlyphs">Procentul mediilor mai mari decât 5</text>
<text class="date" x="486" y="83.8" textLength="40.5" lengthAdjust="spacingAndGlyphs">22.iun.20</text>
<rect x="34" y="458" width="550" height="12.5" fill="#8a8a8a" filter="url(#sh)" opacity="0.8"/>
<rect x="32" y="455.5" width="550" height="12.5" fill="url(#lg)"/>
<text class="leg" x="33.2" y="486.8" textLength="78.5" lengthAdjust="spacingAndGlyphs">Procentaj scăzut</text><text class="leg" x="501.5" y="486.8" textLength="79" lengthAdjust="spacingAndGlyphs">Procentaj ridicat</text>
<g>
<ellipse cx="515.4" cy="35.2" rx="17.2" ry="15.7" fill="#2c5aa9"/>
<ellipse cx="515.4" cy="35.2" rx="15.9" ry="14.5" fill="none" stroke="#b9c9e8" stroke-width="0.5"/>
<ellipse cx="515.4" cy="35.2" rx="10.3" ry="9.6" fill="none" stroke="#9fb4dd" stroke-width="0.5"/>
<path d="M509 29.5 Q515.6 26 522.4 29.5 L522.4 37.5 Q521.5 42 515.6 44 Q509.8 42 509 37.5Z" fill="#d3dff1"/>
<path d="M515.6 28.8 l1.4 1.6 3.6-1.2 -0.8 3.6 1.2 2.8 -2.6 1.2 -0.6 3.6 -2.2-1.4 -2.2 1.4 -0.6-3.6 -2.6-1.2 1.2-2.8 -0.8-3.6 3.6 1.2z" fill="#5f83c4"/>
<rect x="513.4" y="33" width="4.4" height="4.8" fill="#e9eff9"/>
<text transform="translate(504.80,30.13) rotate(-62.0)" font-family="Liberation Sans,sans-serif" font-size="3.8" font-weight="bold" fill="#c7d5ef" text-anchor="middle">G</text>
<text transform="translate(507.02,27.47) rotate(-44.3)" font-family="Liberation Sans,sans-serif" font-size="3.8" font-weight="bold" fill="#c7d5ef" text-anchor="middle">U</text>
<text transform="translate(510.03,25.54) rotate(-26.6)" font-family="Liberation Sans,sans-serif" font-size="3.8" font-weight="bold" fill="#c7d5ef" text-anchor="middle">V</text>
<text transform="translate(513.55,24.53) rotate(-8.9)" font-family="Liberation Sans,sans-serif" font-size="3.8" font-weight="bold" fill="#c7d5ef" text-anchor="middle">E</text>
<text transform="translate(517.25,24.53) rotate(8.9)" font-family="Liberation Sans,sans-serif" font-size="3.8" font-weight="bold" fill="#c7d5ef" text-anchor="middle">R</text>
<text transform="translate(520.77,25.54) rotate(26.6)" font-family="Liberation Sans,sans-serif" font-size="3.8" font-weight="bold" fill="#c7d5ef" text-anchor="middle">N</text>
<text transform="translate(523.78,27.47) rotate(44.3)" font-family="Liberation Sans,sans-serif" font-size="3.8" font-weight="bold" fill="#c7d5ef" text-anchor="middle">U</text>
<text transform="translate(526.00,30.13) rotate(62.0)" font-family="Liberation Sans,sans-serif" font-size="3.8" font-weight="bold" fill="#c7d5ef" text-anchor="middle">L</text>
<text transform="translate(502.51,41.49) rotate(62.0)" font-family="Liberation Sans,sans-serif" font-size="3.8" font-weight="bold" fill="#c7d5ef" text-anchor="middle">R</text>
<text transform="translate(505.21,44.79) rotate(44.3)" font-family="Liberation Sans,sans-serif" font-size="3.8" font-weight="bold" fill="#c7d5ef" text-anchor="middle">O</text>
<text transform="translate(508.87,47.18) rotate(26.6)" font-family="Liberation Sans,sans-serif" font-size="3.8" font-weight="bold" fill="#c7d5ef" text-anchor="middle">M</text>
<text transform="translate(513.15,48.44) rotate(8.9)" font-family="Liberation Sans,sans-serif" font-size="3.8" font-weight="bold" fill="#c7d5ef" text-anchor="middle">Â</text>
<text transform="translate(517.65,48.44) rotate(-8.9)" font-family="Liberation Sans,sans-serif" font-size="3.8" font-weight="bold" fill="#c7d5ef" text-anchor="middle">N</text>
<text transform="translate(521.93,47.18) rotate(-26.6)" font-family="Liberation Sans,sans-serif" font-size="3.8" font-weight="bold" fill="#c7d5ef" text-anchor="middle">I</text>
<text transform="translate(525.59,44.79) rotate(-44.3)" font-family="Liberation Sans,sans-serif" font-size="3.8" font-weight="bold" fill="#c7d5ef" text-anchor="middle">E</text>
<text transform="translate(528.29,41.49) rotate(-62.0)" font-family="Liberation Sans,sans-serif" font-size="3.8" font-weight="bold" fill="#c7d5ef" text-anchor="middle">I</text>
</g>
<text class="min" x="538.5" y="38.6" textLength="218" lengthAdjust="spacing">MINISTERUL EDUCAȚIEI ȘI CERCETĂRII</text>
</svg></body></html>
